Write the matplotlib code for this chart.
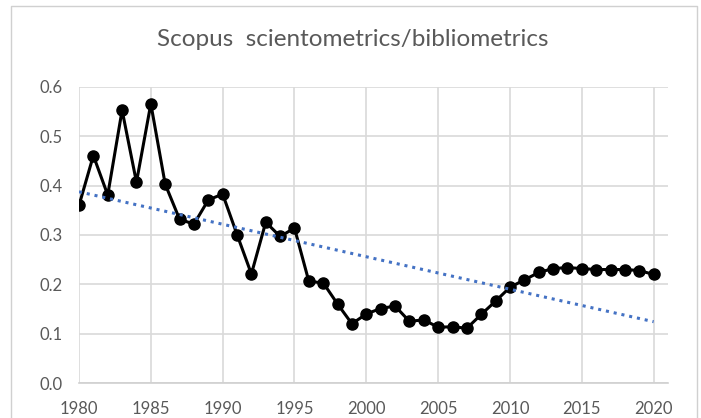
import numpy as np
import matplotlib
matplotlib.use("Agg")
import matplotlib.pyplot as plt
from matplotlib.lines import Line2D

years = list(range(1980, 2021))
values = [0.360, 0.461, 0.381, 0.553, 0.407, 0.566, 0.403, 0.332, 0.322, 0.371,
          0.383, 0.301, 0.221, 0.326, 0.297, 0.314, 0.206, 0.203, 0.160, 0.120,
          0.140, 0.151, 0.156, 0.125, 0.128, 0.113, 0.114, 0.111, 0.139, 0.166,
          0.194, 0.209, 0.224, 0.232, 0.234, 0.232, 0.230, 0.230, 0.230, 0.228,
          0.220]
title = "Scopus  scientometrics/bibliometrics"
xticks = [1980, 1985, 1990, 1995, 2000, 2005, 2010, 2015, 2020]
yticks = [0.0, 0.1, 0.2, 0.3, 0.4, 0.5, 0.6]

plt.rcParams['font.family'] = ['Lato', 'DejaVu Sans']

W, H = 701, 418
fig = plt.figure(figsize=(W / 100, H / 100), dpi=100)
ax = fig.add_axes([79 / W, 1 - 383 / H, (668 - 79) / W, (383 - 87) / H])

x = np.array(years, dtype=float)
y = np.array(values)
coef = np.polyfit(x, y, 1)
ax.plot(x, np.polyval(coef, x), linestyle=(0, (1, 1.6)), color='#4472C4', lw=2.2,
        zorder=4)
ax.plot(x, y, color='black', lw=2.2, marker='o', markersize=8, zorder=3)

ax.set_xlim(1980, 2021)
ax.set_ylim(0, 0.6)
ax.set_xticks(xticks)
ax.set_yticks(yticks)
ax.set_yticklabels([f"{v:.1f}" for v in yticks])
ax.grid(True, color='#d9d9d9', lw=1.2)
ax.set_axisbelow(True)
for s in ['left', 'right', 'top']:
    ax.spines[s].set_visible(False)
ax.spines['bottom'].set_color('#d0d0d0')
ax.spines['bottom'].set_linewidth(1.2)
ax.tick_params(length=0, labelsize=12, colors='#595959')
ax.tick_params(axis='x', pad=13)
ax.tick_params(axis='y', pad=11.5)

fig.text(353 / W, 1 - 40 / H, title, ha='center', va='center', fontsize=17.5,
         color='#595959')

# chart frame
fx = [11 / W, 11 / W, 697 / W, 697 / W]
fy = [0, 1 - 6 / H, 1 - 6 / H, 0]
fig.add_artist(Line2D(fx, fy, color='#d0d0d0', lw=1.0))

fig.savefig("out.png", dpi=100)
